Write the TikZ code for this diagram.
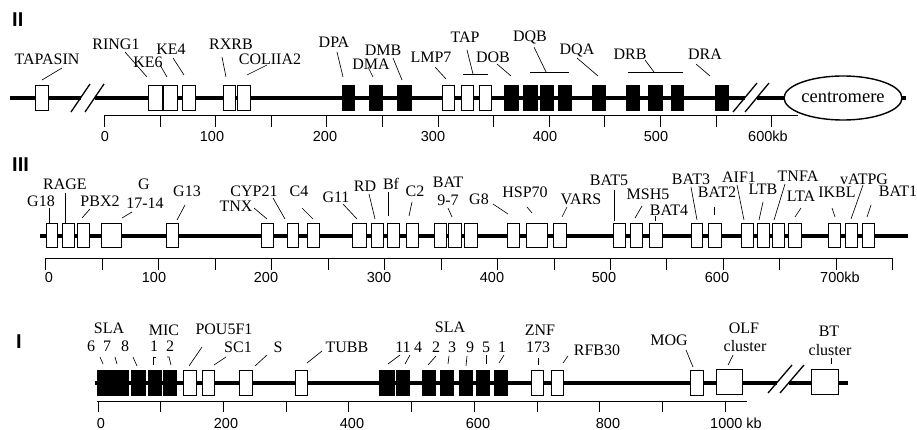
\documentclass[tikz,border=0pt]{standalone}
\usepackage{fontspec}
\setmainfont{Liberation Serif}
\setsansfont{Liberation Sans}
\newcommand{\gbII}[3]{\draw[#1] (#2,85) rectangle (#3,110);}
\newcommand{\gbIII}[3]{\draw[#1] (#2,223) rectangle (#3,247);}
\newcommand{\gbI}[3]{\draw[#1] (#2,370.5) rectangle (#3,395);}
\begin{document}
\begin{tikzpicture}[x=1pt,y=-1pt,
  chrom/.style={line width=4pt},
  wbx/.style={draw=black, fill=white, line width=0.7pt},
  bbx/.style={draw=black, fill=black, line width=0.7pt},
  ld/.style={line width=0.65pt},
  brk/.style={line width=1.3pt},
  sbar/.style={line width=0.8pt},
  lab/.style={font=\fontsize{16}{16}\selectfont, inner sep=0pt, anchor=base},
  num/.style={font=\sffamily\fontsize{14.5}{14.5}\selectfont, inner sep=0pt, anchor=base},
  rom/.style={font=\sffamily\bfseries\fontsize{20}{20}\selectfont, inner sep=0pt, anchor=base west}]
\useasboundingbox[fill=white] (0,0) rectangle (917,430);

% ================= ROW II =================
\node[rom] (romII) at (12,27) {II};
\draw[chrom] (10,98) -- (80.5,98);
\draw[chrom] (94.5,98) -- (744.5,98);
\draw[chrom] (756.5,98) -- (906,98);
\draw[brk] (71,112) -- (90,84);
\draw[brk] (85,112) -- (104,84);
\draw[brk] (733,112) -- (757,83);
\draw[brk] (745,112) -- (769,83);
\draw[line width=1.4pt, fill=white] (843,98) ellipse [x radius=59pt, y radius=22pt];
\node[font=\fontsize{18.5}{18.5}\selectfont, inner sep=0pt] (centro) at (843,97) {centromere};

\gbII{wbx}{35}{48}
\gbII{wbx}{148}{162}
\gbII{wbx}{163.5}{177}
\gbII{wbx}{182}{195}
\gbII{wbx}{223}{235}
\gbII{wbx}{237}{250}
\gbII{bbx}{342}{354}
\gbII{bbx}{369}{382}
\gbII{bbx}{397}{411}
\gbII{wbx}{442}{454}
\gbII{wbx}{461}{473}
\gbII{wbx}{479}{491}
\gbII{bbx}{504}{518}
\gbII{bbx}{523}{537}
\gbII{bbx}{540}{553}
\gbII{bbx}{558}{571}
\gbII{bbx}{592}{605}
\gbII{bbx}{626}{639}
\gbII{bbx}{648}{662}
\gbII{bbx}{671}{683}
\gbII{bbx}{715}{728}

\node[lab] (tapasin) at (47,65) {TAPASIN};
\node[lab] (ring1) at (116,50) {RING1};
\node[lab] (ke6) at (148,68) {KE6};
\node[lab] (ke4) at (171,55) {KE4};
\node[lab] (rxrb) at (231,50) {RXRB};
\node[lab] (col) at (270,65) {COLIIA2};
\node[lab] (dpa) at (334,48) {DPA};
\node[lab] (dma) at (371,70) {DMA};
\node[lab] (dmb) at (383,56) {DMB};
\node[lab] (lmp7) at (431,63) {LMP7};
\node[lab] (tap) at (465,43) {TAP};
\node[lab] (dob) at (493,63) {DOB};
\node[lab] (dqb) at (530,42) {DQB};
\node[lab] (dqa) at (577,55) {DQA};
\node[lab] (drb) at (630,60) {DRB};
\node[lab] (dra) at (705,60) {DRA};

\draw[ld] (62,68) -- (42,80);
\draw[ld] (125,52) -- (147,77);
\draw[ld] (160,65) -- (167,77);
\draw[ld] (173,58) -- (184,75);
\draw[ld] (222,57) -- (226,77);
\draw[ld] (267,65) -- (247,75);
\draw[ld] (337,52) -- (343,77);
\draw[ld] (368,67) -- (373,77);
\draw[ld] (393,58) -- (402,80);
\draw[ld] (435,67) -- (446,79);
\draw[ld] (467,50) -- (473,74);
\draw[ld] (463,74) -- (488,74);
\draw[ld] (497,64) -- (511,76);
\draw[ld] (534,47) -- (546,72);
\draw[ld] (530,72) -- (569,72);
\draw[ld] (577,58) -- (598,76);
\draw[ld] (645,60) -- (654,72);
\draw[ld] (628,72) -- (683,72);
\draw[ld] (696,64) -- (710,76);

\draw[sbar] (104.3,115.5) -- (798,115.5);
\foreach \k in {0,...,12} \draw[sbar] ({104.3+55.62*\k},115.5) -- ++(0,12);
\node[num] (s0) at (105,142) {0};
\node[num] (s1) at (212,142) {100};
\node[num] (s2) at (325,142) {200};
\node[num] (s3) at (433,142) {300};
\node[num] (s4) at (545,142) {400};
\node[num] (s5) at (656,142) {500};
\node[num, anchor=base west] (s6) at (748,142) {600kb};

% ================= ROW III =================
\node[rom] (romIII) at (12,172) {III};
\draw[chrom] (40,235.5) -- (908,235.5);

\gbIII{wbx}{46}{57}
\gbIII{wbx}{62}{74}
\gbIII{wbx}{77}{89}
\gbIII{wbx}{101}{121}
\gbIII{wbx}{166}{178}
\gbIII{wbx}{261}{273}
\gbIII{wbx}{287}{298}
\gbIII{wbx}{307}{319}
\gbIII{wbx}{352}{366}
\gbIII{wbx}{371}{383}
\gbIII{wbx}{387}{399}
\gbIII{wbx}{406}{418}
\gbIII{wbx}{434}{446}
\gbIII{wbx}{448}{461}
\gbIII{wbx}{464}{477}
\gbIII{wbx}{507}{519}
\gbIII{wbx}{526}{547}
\gbIII{wbx}{553}{566}
\gbIII{wbx}{613}{625}
\gbIII{wbx}{630}{642}
\gbIII{wbx}{649}{662}
\gbIII{wbx}{691}{702}
\gbIII{wbx}{708}{721}
\gbIII{wbx}{741}{753}
\gbIII{wbx}{757}{769}
\gbIII{wbx}{772}{784}
\gbIII{wbx}{788}{801}
\gbIII{wbx}{828}{840}
\gbIII{wbx}{845}{857}
\gbIII{wbx}{862}{874}

\node[lab] (g18) at (41,207) {G18};
\node[lab] (rage) at (65,190) {RAGE};
\node[lab] (pbx2) at (100,207) {PBX2};
\node[lab] (gg) at (144,190) {G};
\node[lab] (g1714) at (145,208) {17-14};
\node[lab] (g13) at (187,197) {G13};
\node[lab] (tnx) at (236,212) {TNX};
\node[lab] (cyp21) at (254,197) {CYP21};
\node[lab] (c4) at (299,197) {C4};
\node[lab] (g11) at (336,203) {G11};
\node[lab] (rd) at (365,192) {RD};
\node[lab] (bf) at (391,190) {Bf};
\node[lab] (c2) at (415,197) {C2};
\node[lab] (bat) at (448,188) {BAT};
\node[lab] (b97) at (448,206) {9-7};
\node[lab] (g8) at (479,205) {G8};
\node[lab] (hsp70) at (525,198) {HSP70};
\node[lab] (vars) at (581,205) {VARS};
\node[lab] (bat5) at (609,186) {BAT5};
\node[lab] (msh5) at (648,200) {MSH5};
\node[lab] (bat4) at (669,215) {BAT4};
\node[lab] (bat3) at (691,185) {BAT3};
\node[lab] (bat2) at (717,198) {BAT2};
\node[lab] (aif1) at (739,183) {AIF1};
\node[lab] (ltb) at (763,195) {LTB};
\node[lab] (tnfa) at (798,182) {TNFA};
\node[lab] (lta) at (801,202) {LTA};
\node[lab] (ikbl) at (837,198) {IKBL};
\node[lab] (vatpg) at (864,185) {vATPG};
\node[lab] (bat1) at (898,197) {BAT1};

\draw[ld] (49,208) -- (49,223);
\draw[ld] (65,193) -- (65,223);
\draw[ld] (90,209) -- (82,218);
\draw[ld] (132,212) -- (122,218);
\draw[ld] (185,205) -- (177,220);
\draw[ld] (254,208) -- (267,219);
\draw[ld] (273,198) -- (285,219);
\draw[ld] (302,208) -- (313,219);
\draw[ld] (343,204) -- (357,219);
\draw[ld] (369,194) -- (375,219);
\draw[ld] (388,192) -- (388,216);
\draw[ld] (412,202) -- (409,216);
\draw[ld] (448,208) -- (452,217);
\draw[ld] (493,204) -- (508,214);
\draw[ld] (527,207) -- (532,213);
\draw[ld] (567,207) -- (562,217);
\draw[ld, line width=0.4pt] (614,190) -- (614,221);
\draw[ld] (642,206) -- (635,218);
\draw[ld] (655,216) -- (655,221);
\draw[ld] (691,187) -- (697,220);
\draw[ld] (714,207) -- (714,215);
\draw[ld] (737,185) -- (744,220);
\draw[ld] (763,202) -- (759,220);
\draw[ld] (785,184) -- (774,220);
\draw[ld] (801,208) -- (795,217);
\draw[ld] (832,208) -- (835,217);
\draw[ld] (863,185) -- (851,219);
\draw[ld] (871,205) -- (867,217);

\draw[sbar] (45.7,258) -- (893,258);
\foreach \k in {0,...,15} \draw[sbar] ({45.7+56.47*\k},258) -- ++(0,12);
\node[num] (t0) at (49,282) {0};
\node[num] (t1) at (154,282) {100};
\node[num] (t2) at (266,282) {200};
\node[num] (t3) at (379,282) {300};
\node[num] (t4) at (492,282) {400};
\node[num] (t5) at (604,282) {500};
\node[num] (t6) at (717,282) {600};
\node[num, anchor=base west] (t7) at (820,282) {700kb};

% ================= ROW I =================
\node[rom] (romI) at (16,348) {I};
\draw[line width=3.6pt] (95,383) -- (777,383);
\draw[line width=3.6pt] (789,383) -- (848,383);
\draw[brk] (768,393) -- (792,365);
\draw[brk] (780,393) -- (804,365);

\gbI{bbx}{97}{112}
\gbI{bbx}{113.5}{128}
\gbI{bbx}{131}{145}
\gbI{bbx}{148}{161}
\gbI{bbx}{163}{176}
\gbI{wbx}{183}{196}
\gbI{wbx}{202}{214}
\gbI{wbx}{239}{252}
\gbI{wbx}{295}{307}
\gbI{bbx}{379}{394}
\gbI{bbx}{396}{409}
\gbI{bbx}{422}{435}
\gbI{bbx}{440}{453}
\gbI{bbx}{459}{472}
\gbI{bbx}{476}{489}
\gbI{bbx}{494}{507}
\gbI{wbx}{531}{543}
\gbI{wbx}{551}{563}
\gbI{wbx}{690}{703}
\draw[wbx] (716,369.5) rectangle (742,394);
\draw[wbx] (811,369.5) rectangle (838,394);

\node[lab] (sla1) at (109,333) {SLA};
\node[lab] (n6) at (91,351) {6};
\node[lab] (n7) at (107,351) {7};
\node[lab] (n8) at (125,351) {8};
\node[lab] (mic) at (164,335) {MIC};
\node[lab] (m1) at (154,351) {1};
\node[lab] (m2) at (170,351) {2};
\node[lab] (pou) at (224,334) {POU5F1};
\node[lab] (sc1) at (238,352) {SC1};
\node[lab] (ss) at (278,352) {S};
\node[lab] (tubb) at (347,352) {TUBB};
\node[lab] (sla2) at (450,332) {SLA};
\node[lab] (a11) at (403,352) {11};
\node[lab] (a4) at (418,352) {4};
\node[lab] (a2) at (436,352) {2};
\node[lab] (a3) at (452,352) {3};
\node[lab] (a9) at (470,352) {9};
\node[lab] (a5) at (486,352) {5};
\node[lab] (a1) at (502,352) {1};
\node[lab] (znf) at (540,335) {ZNF};
\node[lab] (z173) at (538,352) {173};
\node[lab] (rfb) at (597,355) {RFB30};
\node[lab] (mog) at (669,345) {MOG};
\node[lab] (olf) at (744,333) {OLF};
\node[lab] (olfc) at (745,351) {cluster};
\node[lab] (bt) at (829,336) {BT};
\node[lab] (btc) at (830,355) {cluster};

\draw[ld] (100,357) -- (103,364);
\draw[ld] (115,357) -- (117,364);
\draw[ld] (133,357) -- (137,366);
\draw[ld] (156,357) -- (153,357) -- (153,365);
\draw[ld] (167,357) -- (169,357) -- (171,365);
\draw[ld] (202,347) -- (189,366);
\draw[ld] (226,357) -- (214,365);
\draw[ld] (267,355) -- (255,366);
\draw[ld] (322,351) -- (307,363);
\draw[ld] (400,355) -- (388,364);
\draw[ld] (410,355) -- (405,364);
\draw[ld] (436,356) -- (428,365);
\draw[ld] (449,356) -- (448,364);
\draw[ld] (467,356) -- (466,366);
\draw[ld] (486,355) -- (486,364);
\draw[ld] (504,355) -- (499,363);
\draw[ld] (538,358) -- (538,365);
\draw[ld] (568,356) -- (563,363);
\draw[ld] (686,350) -- (693,367);
\draw[ld] (733,355) -- (728,365);
\draw[ld] (831,358) -- (831,364);

\draw[sbar] (97,401) -- (747,401);
\foreach \k in {0,...,10} \draw[sbar] ({98+62.7*\k},401) -- ++(0,11);
\node[num] (u0) at (101,428) {0};
\node[num] (u1) at (226,428) {200};
\node[num] (u2) at (352,428) {400};
\node[num] (u3) at (478,428) {600};
\node[num] (u4) at (608,428) {800};
\node[num, anchor=base west] (u5) at (710,428) {1000 kb};
\end{tikzpicture}
\end{document}
